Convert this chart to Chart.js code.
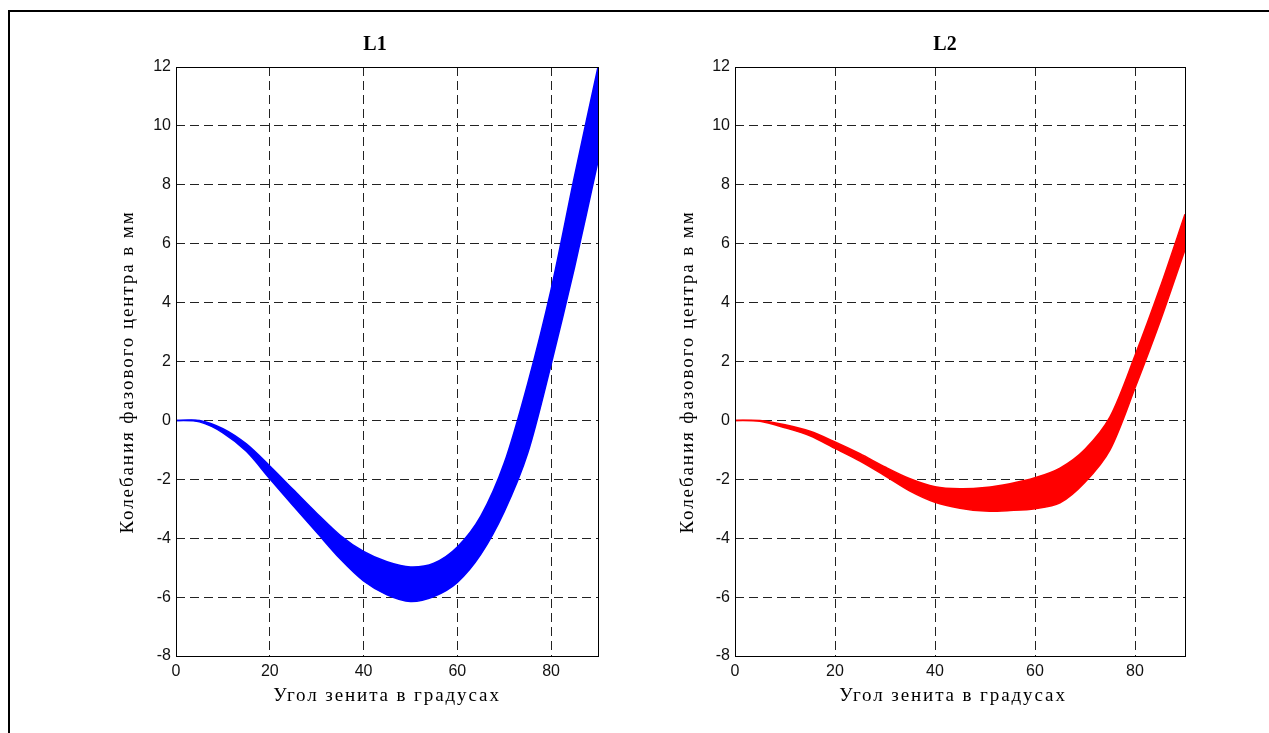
<!DOCTYPE html>
<html>
<head>
<meta charset="utf-8">
<script src="https://cdn.jsdelivr.net/npm/chart.js@4/dist/chart.umd.min.js"></script>
<style>
html,body{margin:0;padding:0;background:#fff;width:1269px;height:733px;overflow:hidden;}
#frame{position:absolute;left:8px;top:10px;width:1400px;height:900px;border-top:2px solid #000;border-left:2px solid #000;box-sizing:border-box;}
#c1{position:absolute;left:0;top:0;}
#c2{position:absolute;left:640px;top:0;}
</style>
</head>
<body>
<div id="frame"></div>
<canvas id="c1" width="640" height="733"></canvas>
<canvas id="c2" width="629" height="733"></canvas>
<script>
// ---- data ----
const zenithAngles = [0, 5, 10, 15, 20, 25, 30, 35, 40, 45, 50, 55, 60, 65, 70, 75, 80, 85, 90];
const l1Upper = [0, 0, -0.28, -0.8, -1.55, -2.35, -3.15, -3.9, -4.45, -4.8, -4.98, -4.85, -4.3, -3.25, -1.45, 1.25, 4.45, 8.3, 12.0];
const l1Lower = [0, -0.05, -0.42, -1.05, -1.98, -2.9, -3.8, -4.7, -5.45, -5.92, -6.15, -5.98, -5.5, -4.55, -3.1, -1.12, 1.9, 5.2, 8.8];
const l2Upper = [0, 0, -0.15, -0.37, -0.73, -1.13, -1.58, -1.98, -2.25, -2.32, -2.28, -2.15, -1.95, -1.62, -0.98, 0.12, 2.2, 4.5, 7.0];
const l2Lower = [0, -0.03, -0.25, -0.52, -0.95, -1.38, -1.88, -2.4, -2.78, -2.98, -3.08, -3.06, -3.0, -2.8, -2.1, -1.0, 1.1, 3.35, 5.8];
const xTicks = [0, 20, 40, 60, 80];
const yTicks = [-8, -6, -4, -2, 0, 2, 4, 6, 8, 10, 12];
const chartTitles = ['L1', 'L2'];
const xTitle = 'Угол зенита в градусах';
const yTitle = 'Колебания фазового центра в мм';

Chart.defaults.font.family = '"Liberation Sans", Arial, sans-serif';
Chart.defaults.color = '#111';

const decor = {
  id: 'decor',
  afterDraw(chart, args, o) {
    const ctx = chart.ctx, a = chart.chartArea;
    ctx.save();
    ctx.strokeStyle = '#000';
    ctx.lineWidth = 1;
    ctx.setLineDash([]);
    ctx.strokeRect(Math.round(a.left) + 0.5, Math.round(a.top) + 0.5,
                   Math.round(a.right - a.left), Math.round(a.bottom - a.top));
    ctx.fillStyle = '#000';
    ctx.font = '19px "Liberation Serif", "Times New Roman", serif';
    try { ctx.letterSpacing = '1.9px'; } catch (e) {}
    ctx.textAlign = 'center';
    ctx.textBaseline = 'middle';
    ctx.fillText(xTitle, o.xTitleX, o.xTitleY);
    ctx.translate(o.yTitleX, o.yTitleY);
    ctx.rotate(-Math.PI / 2);
    ctx.fillText(yTitle, 0, 0);
    ctx.restore();
  }
};

function makeChart(id, title, upper, lower, color, g) {
  const pts = arr => arr.map((v, i) => ({ x: zenithAngles[i], y: v }));
  return new Chart(document.getElementById(id), {
    type: 'line',
    data: {
      datasets: [
        { label: title + ' min', data: pts(lower), borderColor: color, backgroundColor: color,
          borderWidth: 1.5, pointRadius: 0, fill: false, tension: 0.3 },
        { label: title + ' max', data: pts(upper), borderColor: color, backgroundColor: color,
          borderWidth: 1.5, pointRadius: 0, fill: '-1', tension: 0.3 }
      ]
    },
    options: {
      responsive: false,
      animation: false,
      devicePixelRatio: 1,
      layout: { padding: { left: g.padLeft, right: g.padRight, top: 33, bottom: 0 } },
      plugins: {
        legend: { display: false },
        tooltip: { enabled: false },
        title: {
          display: true, text: title, color: '#000',
          font: { family: '"Liberation Serif", "Times New Roman", serif', size: 20, weight: 'bold', lineHeight: 1.2 },
          padding: { top: 0, bottom: 10 }
        },
        decor: g.decor
      },
      scales: {
        x: {
          type: 'linear', min: 0, max: 90,
          afterBuildTicks: s => { s.ticks = xTicks.map(v => ({ value: v })); },
          afterFit: s => { s.height = 77; },
          ticks: { padding: 6, font: { size: 16 }, color: '#111', maxRotation: 0 },
          grid: { color: '#222', lineWidth: 1, drawTicks: false },
          border: { display: false, dash: [9, 5] },
          title: { display: false, text: xTitle }
        },
        y: {
          type: 'linear', min: -8, max: 12,
          afterBuildTicks: s => { s.ticks = yTicks.map(v => ({ value: v })); },
          afterFit: s => { s.width = g.yWidth; },
          ticks: { padding: 5, font: { size: 16 }, color: '#111' },
          grid: { color: '#222', lineWidth: 1, drawTicks: false },
          border: { display: false, dash: [9, 5] },
          title: { display: false, text: yTitle }
        }
      }
    },
    plugins: [decor]
  });
}

makeChart('c1', chartTitles[0], l1Upper, l1Lower, '#0000ff', {
  padLeft: 152, padRight: 42, yWidth: 24,
  decor: { xTitleX: 387, xTitleY: 696, yTitleX: 128, yTitleY: 372 }
});
makeChart('c2', chartTitles[1], l2Upper, l2Lower, '#ff0000', {
  padLeft: 65, padRight: 84, yWidth: 30,
  decor: { xTitleX: 313, xTitleY: 696, yTitleX: 48, yTitleY: 372 }
});
</script>
</body>
</html>
